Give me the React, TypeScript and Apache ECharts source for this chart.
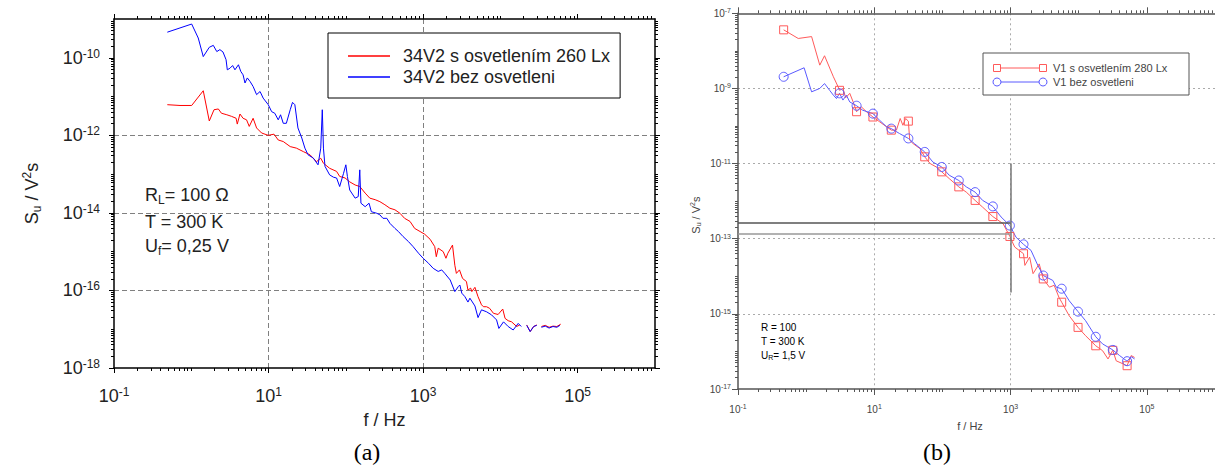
import React, { useEffect, useRef } from "react";
import * as echarts from "echarts";

// ---------- chart (a): log10(f / Hz), log10(S / V^2s) ----------
const aRed: (number | null)[][] = [
  [-0.31, -11.21], [-0.146, -11.23], [0.005, -11.23], [0.155, -10.85], [0.233, -11.63], [0.294, -11.34],
  [0.35, -11.32], [0.39, -11.43], [0.46, -11.47], [0.52, -11.51], [0.58, -11.56], [0.595, -11.71],
  [0.63, -11.45], [0.67, -11.56], [0.715, -11.6], [0.75, -11.77], [0.8, -11.56], [0.845, -11.81],
  [0.91, -11.94], [0.996, -12.0], [1.07, -11.97], [1.125, -12.12], [1.19, -12.16], [1.28, -12.29],
  [1.36, -12.33], [1.45, -12.42], [1.535, -12.5], [1.62, -12.68], [1.675, -12.59], [1.71, -12.72],
  [1.79, -12.85], [1.88, -12.93], [1.92, -13.06], [1.99, -13.1], [2.05, -13.2], [2.12, -13.28],
  [2.18, -13.32], [2.25, -13.49], [2.31, -13.62], [2.38, -13.66], [2.44, -13.71], [2.505, -13.79],
  [2.57, -13.88], [2.635, -13.92], [2.7, -14.01], [2.76, -14.14], [2.83, -14.22], [2.89, -14.4],
  [2.96, -14.48], [3.02, -14.55], [3.09, -14.68], [3.15, -14.87], [3.17, -15.13], [3.195, -14.91],
  [3.26, -15.0], [3.295, -15.17], [3.32, -15.04], [3.38, -14.83], [3.41, -15.35], [3.43, -15.56],
  [3.47, -15.47], [3.51, -15.69], [3.56, -15.77], [3.58, -15.99], [3.615, -15.94], [3.63, -16.03],
  [3.67, -15.92], [3.71, -16.16], [3.755, -16.37], [3.78, -16.42], [3.82, -16.42], [3.86, -16.46],
  [3.91, -16.59], [3.97, -16.62], [4.03, -16.48], [4.06, -16.72], [4.1, -16.78], [4.145, -16.81],
  [4.21, -16.93], [4.25, -16.89], [4.3, null], [4.34, -16.89], [4.385, -17.06], [4.43, -16.93],
  [4.47, -16.89], [4.5, null], [4.53, -16.93], [4.58, -16.9], [4.63, -16.95], [4.68, -16.92],
  [4.73, -16.93], [4.78, -16.87],
];
const aBlue: (number | null)[][] = [
  [-0.31, -9.34], [0.005, -9.13], [0.09, -9.49], [0.155, -9.97], [0.233, -9.73], [0.285, -9.68],
  [0.33, -9.84], [0.37, -9.79], [0.41, -9.85], [0.45, -10.05], [0.466, -10.31], [0.5, -10.27],
  [0.535, -10.2], [0.565, -10.31], [0.61, -10.18], [0.64, -10.35], [0.67, -10.44], [0.695, -10.65],
  [0.725, -10.52], [0.76, -10.61], [0.8, -10.74], [0.845, -10.95], [0.89, -10.87], [0.93, -11.04],
  [0.996, -11.21], [1.04, -11.39], [1.08, -11.43], [1.125, -11.6], [1.155, -11.47], [1.19, -11.69],
  [1.23, -11.69], [1.28, -11.34], [1.31, -11.15], [1.34, -11.21], [1.38, -11.81], [1.43, -12.07],
  [1.47, -12.33], [1.51, -12.5], [1.58, -12.59], [1.64, -12.76], [1.675, -12.33], [1.695, -11.34],
  [1.71, -12.33], [1.73, -12.8], [1.79, -13.02], [1.84, -13.08], [1.88, -13.1], [1.92, -13.32],
  [1.97, -12.98], [2.0, -12.76], [2.02, -13.06], [2.05, -13.41], [2.12, -13.62], [2.16, -13.58],
  [2.18, -12.89], [2.195, -13.75], [2.25, -13.84], [2.3, -13.75], [2.33, -13.97], [2.4, -14.01],
  [2.44, -14.05], [2.48, -14.14], [2.53, -14.14], [2.57, -14.27], [2.635, -14.4], [2.68, -14.48],
  [2.74, -14.61], [2.81, -14.74], [2.87, -14.87], [2.94, -15.04], [3.0, -15.17], [3.07, -15.3],
  [3.13, -15.43], [3.195, -15.51], [3.24, -15.47], [3.28, -15.56], [3.35, -15.73], [3.41, -16.03],
  [3.455, -15.9], [3.475, -15.86], [3.5, -16.07], [3.54, -16.16], [3.58, -16.3], [3.605, -16.2],
  [3.67, -16.4], [3.71, -16.7], [3.755, -16.5], [3.82, -16.55], [3.885, -16.63], [3.95, -16.76],
  [3.98, -16.98], [4.04, -16.81], [4.1, -16.93], [4.165, -17.02], [4.23, -16.85], [4.27, -16.93],
  [4.3, null], [4.34, -16.9], [4.385, -17.06], [4.43, -16.93], [4.47, -16.9], [4.5, null],
  [4.53, -16.95], [4.58, -16.92], [4.63, -16.97], [4.68, -16.93], [4.73, -16.95], [4.77, -16.9],
];

// ---------- chart (b) ----------
const bRed: number[][] = [
  [-0.33, -7.44], [-0.116, -7.67], [0.08, -7.62], [0.2, -8.38], [0.27, -8.13], [0.4, -8.69],
  [0.47, -8.96], [0.49, -9.05], [0.54, -9.0], [0.58, -9.25], [0.64, -9.13], [0.69, -9.36],
  [0.74, -9.62], [0.81, -9.49], [0.885, -9.62], [0.98, -9.76], [1.08, -9.89], [1.18, -10.02],
  [1.25, -10.11], [1.325, -10.11], [1.38, -9.8], [1.42, -9.98], [1.46, -9.8], [1.5, -9.87],
  [1.52, -10.38], [1.57, -10.47], [1.67, -10.6], [1.74, -10.82], [1.82, -11.0], [1.91, -11.09],
  [1.99, -11.22], [2.1, -11.4], [2.24, -11.62], [2.35, -11.76], [2.48, -11.98], [2.59, -12.16],
  [2.74, -12.41], [2.89, -12.6], [2.99, -12.94], [3.06, -13.22], [3.19, -13.4], [3.21, -13.71],
  [3.28, -13.49], [3.33, -13.93], [3.42, -13.67], [3.48, -14.07], [3.57, -14.29], [3.64, -14.24],
  [3.71, -14.56], [3.75, -14.69], [3.86, -15.05], [3.99, -15.36], [4.1, -15.58], [4.25, -15.85],
  [4.35, -15.98], [4.43, -16.2], [4.5, -15.97], [4.55, -16.25], [4.65, -16.33], [4.71, -16.38],
  [4.77, -16.11], [4.82, -16.16],
];
const bBlue: number[][] = [
  [-0.33, -8.69], [-0.03, -8.45], [0.08, -9.09], [0.2, -9.0], [0.27, -8.87], [0.345, -9.05],
  [0.4, -9.18], [0.445, -9.27], [0.49, -9.13], [0.54, -9.31], [0.59, -9.18], [0.64, -9.36],
  [0.74, -9.46], [0.83, -9.58], [0.98, -9.67], [1.08, -9.85], [1.18, -10.02], [1.25, -10.07],
  [1.37, -10.2], [1.5, -10.33], [1.59, -10.47], [1.74, -10.69], [1.86, -10.96], [1.99, -11.09],
  [2.1, -11.31], [2.24, -11.45], [2.35, -11.62], [2.48, -11.76], [2.59, -11.98], [2.74, -12.14],
  [2.86, -12.42], [2.99, -12.65], [3.08, -12.96], [3.19, -13.15], [3.3, -13.31], [3.4, -13.71],
  [3.48, -13.98], [3.62, -14.11], [3.67, -14.29], [3.75, -14.33], [3.86, -14.65], [3.99, -14.94],
  [4.1, -15.18], [4.25, -15.61], [4.35, -15.8], [4.5, -15.96], [4.6, -16.11], [4.71, -16.26],
  [4.77, -16.14], [4.82, -16.2],
];
const bMarkerLogF = [-0.33, 0.49, 0.74, 0.98, 1.25, 1.5, 1.74, 1.99, 2.24, 2.48, 2.74, 2.99, 3.19, 3.48, 3.75, 3.99, 4.25, 4.5, 4.71];
const bGuideX = 3;
const bGuideYRange = [-11, -14.43];
const bGuideLevels = [-12.565, -12.87];

// ---------- tick values (decade exponents) ----------
const aXMajor = [-1, 1, 3, 5];
const aYMajor = [-18, -16, -14, -12, -10];
const bXMajor = [-1, 1, 3, 5];
const bYMajor = [-17, -15, -13, -11, -9, -7];

const FONT = "'Liberation Sans', Arial, Helvetica, sans-serif";
const SERIF = "'Liberation Serif', 'Times New Roman', serif";

function minorTickValues(lo: number, hi: number, majors: number[]) {
  const out: number[] = [];
  for (let k = lo; k < hi; k++) {
    if (k > lo && !majors.includes(k)) out.push(k);
    for (let m = 2; m <= 9; m++) out.push(+(k + Math.log10(m)).toFixed(6));
  }
  return out;
}
const aXMinor = minorTickValues(-1, 6, aXMajor);
const aYMinor = minorTickValues(-18, -9, aYMajor);
const bXMinor = minorTickValues(-1, 6, bXMajor);
const bYMinor = minorTickValues(-17, -7, bYMajor);

const toData = (pts: (number | null)[][]) => pts.map((p) => [p[0], p[1] == null ? "-" : p[1]]);
const supFmt = (v: number) => "{b|10}{s|" + Math.round(v) + "}";

const aRich = {
  b: { fontSize: 18, lineHeight: 20, fontFamily: FONT, color: "#222" },
  s: { fontSize: 12, lineHeight: 9, verticalAlign: "top", fontFamily: FONT, color: "#222" },
};
const bRich = {
  b: { fontSize: 10, lineHeight: 12, fontFamily: FONT, color: "#444" },
  s: { fontSize: 7, lineHeight: 5, verticalAlign: "top", fontFamily: FONT, color: "#444" },
};
const aTitleRich = {
  n: { fontSize: 18, lineHeight: 22, fontFamily: FONT, color: "#222" },
  sub: { fontSize: 12, lineHeight: 4, verticalAlign: "bottom", fontFamily: FONT, color: "#222" },
  sup: { fontSize: 12, lineHeight: 9, verticalAlign: "top", fontFamily: FONT, color: "#222" },
};
const bTitleRich = {
  n: { fontSize: 11, lineHeight: 13, fontFamily: FONT, color: "#444" },
  sub: { fontSize: 7, lineHeight: 3, verticalAlign: "bottom", fontFamily: FONT, color: "#444" },
  sup: { fontSize: 7, lineHeight: 5, verticalAlign: "top", fontFamily: FONT, color: "#444" },
};

function axisSet(grid: number, min: number, max: number, interval: number,
  majors: number[], minors: number[], color: string, lineW: number, majLen: number, minLen: number,
  positions: string[], main: any) {
  const common = { gridIndex: grid, type: "value", min, max };
  const tickStyle = { color, width: 1 };
  const out: any[] = [];
  positions.forEach((pos, pi) => {
    out.push({
      ...common, position: pos, interval,
      axisLine: { show: true, onZero: false, lineStyle: { color, width: lineW } },
      axisTick: { show: true, length: majLen, customValues: majors, lineStyle: tickStyle },
      axisLabel: { show: false },
      splitLine: { show: false },
      ...(pi === 0 ? main : {}),
    });
    out.push({
      ...common, position: pos,
      axisLine: { show: false, onZero: false },
      axisTick: { show: true, length: minLen, customValues: minors, lineStyle: tickStyle },
      axisLabel: { show: false },
      splitLine: { show: false },
    });
  });
  return out;
}

const xAxes = [
  ...axisSet(0, -1, 6, 2, aXMajor, aXMinor, "#000", 1.5, 5, 3, ["bottom", "top"], {
    axisLabel: { show: true, customValues: aXMajor, margin: 18, formatter: supFmt, rich: aRich },
    splitLine: { show: true, showMinLine: false, showMaxLine: false, lineStyle: { color: "#808080", width: 1, type: [5, 3] } },
    name: "f / Hz", nameLocation: "middle", nameGap: 39,
    nameTextStyle: { fontSize: 18, fontFamily: FONT, color: "#222", lineHeight: 20 },
  }),
  ...axisSet(1, -1, 6, 2, bXMajor, bXMinor, "#555", 1.5, 6, 3, ["bottom", "top"], {
    axisLabel: { show: true, customValues: bXMajor, margin: 14, formatter: supFmt, rich: bRich },
    splitLine: { show: true, showMinLine: false, showMaxLine: false, lineStyle: { color: "#aaa", width: 1, type: [2, 3] } },
    name: "f / Hz", nameLocation: "middle", nameGap: 22,
    nameTextStyle: { fontSize: 11, fontFamily: FONT, color: "#444", lineHeight: 14, padding: [0, 13, 0, 0] },
  }),
];
const yAxes = [
  ...axisSet(0, -18, -9, 2, aYMajor, aYMinor, "#000", 1.5, 5, 3, ["left", "right"], {
    axisLabel: { show: true, customValues: aYMajor, margin: 14, formatter: supFmt, rich: aRich },
    splitLine: { show: true, showMinLine: false, showMaxLine: false, lineStyle: { color: "#808080", width: 1, type: [5, 3] } },
    name: "{n|S}{sub|u}{n| / V}{sup|2}{n|s}", nameLocation: "middle", nameGap: 71, nameRotate: 90,
    nameTextStyle: { rich: aTitleRich },
  }),
  ...axisSet(1, -17, -7, 2, bYMajor, bYMinor, "#555", 1.5, 6, 3, ["left"], {
    axisLabel: { show: true, customValues: bYMajor, margin: 7, formatter: supFmt, rich: bRich },
    splitLine: { show: true, showMinLine: false, showMaxLine: false, lineStyle: { color: "#aaa", width: 1, type: [2, 3] } },
    name: "{n|S}{sub|u}{n| / V}{sup|2}{n|s}", nameLocation: "middle", nameGap: 36, nameRotate: 90,
    nameTextStyle: { rich: bTitleRich, padding: [0, 28, 0, 0] },
  }),
];

const RED_A = "#ff0000";
const BLUE_A = "#0000ff";
const RED_B = "#ff5a5a";
const BLUE_B = "#5a5aff";

const markerSym = (shape: string) => (val: any) =>
  bMarkerLogF.includes(val[0]) ? shape : "none";

const option: any = {
  animation: false,
  backgroundColor: "#fff",
  grid: [
    { left: 114, top: 19, width: 541, height: 349 },
    { left: 738, top: 13.3, width: 477, height: 375.7 },
  ],
  xAxis: xAxes,
  yAxis: yAxes,
  legend: {
    data: ["34V2 s osvetlením 260 Lx", "34V2 bez osvetleni"],
    orient: "vertical", left: 328, top: 33,
    padding: [14, 10, 12, 20],
    icon: "rect",
    itemWidth: 42, itemHeight: 1.5, itemGap: 3,
    borderColor: "#000", borderWidth: 1, backgroundColor: "#fff",
    textStyle: { fontSize: 18, fontFamily: FONT, color: "#222", lineHeight: 18, padding: [0, 0, 0, 8] },
    selectedMode: false,
  },
  series: [
    {
      name: "34V2 s osvetlením 260 Lx", type: "line", xAxisIndex: 0, yAxisIndex: 0,
      data: toData(aRed), symbol: "none", connectNulls: false,
      lineStyle: { color: RED_A, width: 1 }, itemStyle: { color: RED_A },
    },
    {
      name: "34V2 bez osvetleni", type: "line", xAxisIndex: 0, yAxisIndex: 0,
      data: toData(aBlue), symbol: "none", connectNulls: false,
      lineStyle: { color: BLUE_A, width: 1 }, itemStyle: { color: BLUE_A },
    },
    {
      name: "V1 s osvetlením 280 Lx", type: "line", xAxisIndex: 4, yAxisIndex: 4,
      data: bRed, symbol: markerSym("rect"), symbolSize: 8, showAllSymbol: true,
      lineStyle: { color: RED_B, width: 1 },
      itemStyle: { color: "rgba(255,255,255,0)", borderColor: RED_B, borderWidth: 1 },
      markLine: {
        silent: true, symbol: "none", label: { show: false },
        data: [
          [{ coord: [bGuideX, bGuideYRange[0]], lineStyle: { color: "#777", width: 1.5, type: "solid" } },
            { coord: [bGuideX, bGuideYRange[1]] }],
          [{ coord: [-1, bGuideLevels[0]], lineStyle: { color: "#555", width: 1.5, type: "solid" } },
            { coord: [bGuideX, bGuideLevels[0]] }],
          [{ coord: [-1, bGuideLevels[1]], lineStyle: { color: "#999", width: 1.5, type: "solid" } },
            { coord: [bGuideX, bGuideLevels[1]] }],
        ],
      },
    },
    {
      name: "V1 bez osvetleni", type: "line", xAxisIndex: 4, yAxisIndex: 4,
      data: bBlue, symbol: markerSym("circle"), symbolSize: 9, showAllSymbol: true,
      lineStyle: { color: BLUE_B, width: 1 },
      itemStyle: { color: "rgba(255,255,255,0)", borderColor: BLUE_B, borderWidth: 1 },
    },
  ],
  graphic: [
    // chart (a) annotation
    {
      type: "text", x: 145, y: 195,
      style: { text: "{n|R}{sub|L}{n|= 100 Ω}", verticalAlign: "middle", rich: aTitleRich, fill: "#222" },
    },
    {
      type: "text", x: 145, y: 222,
      style: { text: "{n|T = 300 K}", verticalAlign: "middle", rich: aTitleRich, fill: "#222" },
    },
    {
      type: "text", x: 145, y: 246,
      style: { text: "{n|U}{sub|f}{n|= 0,25 V}", verticalAlign: "middle", rich: aTitleRich, fill: "#222" },
    },
    // chart (b) annotation
    {
      type: "text", x: 761, y: 327,
      style: { text: "{n|R = 100}", verticalAlign: "middle", rich: { n: { fontSize: 10, fontFamily: FONT, color: "#555", lineHeight: 12 } } },
    },
    {
      type: "text", x: 761, y: 341,
      style: { text: "{n|T = 300 K}", verticalAlign: "middle", rich: { n: { fontSize: 10, fontFamily: FONT, color: "#555", lineHeight: 12 } } },
    },
    {
      type: "text", x: 761, y: 355,
      style: {
        text: "{n|U}{sub|R}{n|= 1,5 V}", verticalAlign: "middle",
        rich: {
          n: { fontSize: 10, fontFamily: FONT, color: "#555", lineHeight: 12 },
          sub: { fontSize: 7, fontFamily: FONT, color: "#555", lineHeight: 4, verticalAlign: "bottom" },
        },
      },
    },
    // chart (b) legend
    { type: "rect", shape: { x: 983, y: 53, width: 206, height: 42 }, style: { fill: "#fff", stroke: "#555", lineWidth: 1 }, z: 10 },
    { type: "line", shape: { x1: 997, y1: 68, x2: 1043, y2: 68 }, style: { stroke: RED_B, lineWidth: 1 }, z: 11 },
    { type: "rect", shape: { x: 993.5, y: 64.5, width: 7, height: 7 }, style: { fill: "#fff", stroke: RED_B, lineWidth: 1 }, z: 11 },
    { type: "rect", shape: { x: 1039.5, y: 64.5, width: 7, height: 7 }, style: { fill: "#fff", stroke: RED_B, lineWidth: 1 }, z: 11 },
    { type: "line", shape: { x1: 997, y1: 82, x2: 1043, y2: 82 }, style: { stroke: BLUE_B, lineWidth: 1 }, z: 11 },
    { type: "circle", shape: { cx: 997, cy: 82, r: 4 }, style: { fill: "#fff", stroke: BLUE_B, lineWidth: 1 }, z: 11 },
    { type: "circle", shape: { cx: 1043, cy: 82, r: 4 }, style: { fill: "#fff", stroke: BLUE_B, lineWidth: 1 }, z: 11 },
    {
      type: "text", x: 1053, y: 68, z: 11,
      style: { text: "V1 s osvetlením 280 Lx", fill: "#444", font: "11px " + FONT, verticalAlign: "middle" },
    },
    {
      type: "text", x: 1053, y: 82, z: 11,
      style: { text: "V1 bez osvetleni", fill: "#444", font: "11px " + FONT, verticalAlign: "middle" },
    },
    // panel labels
    { type: "text", x: 367, y: 452, style: { text: "(a)", fill: "#000", font: "24px " + SERIF, align: "center", verticalAlign: "middle" } },
    { type: "text", x: 937, y: 452, style: { text: "(b)", fill: "#000", font: "24px " + SERIF, align: "center", verticalAlign: "middle" } },
  ],
};

export default function App() {
  const ref = useRef<HTMLDivElement>(null);
  useEffect(() => {
    if (!ref.current) return;
    const chart = echarts.init(ref.current, null, { renderer: "svg" });
    chart.setOption(option);
    return () => chart.dispose();
  }, []);
  return (
    <div
      ref={ref}
      style={{ position: "fixed", left: 0, top: 0, width: 1215, height: 469, background: "#fff" }}
    />
  );
}
